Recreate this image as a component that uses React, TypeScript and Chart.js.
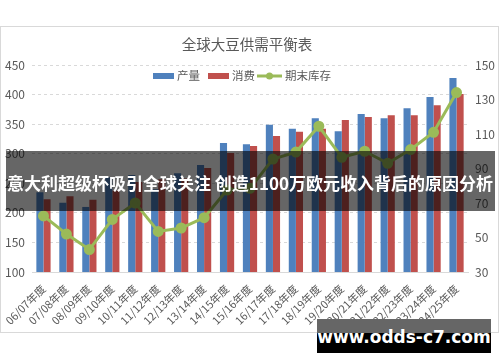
import React, { useEffect, useRef } from "react";
import { Chart, registerables } from "chart.js";

Chart.register(...registerables);

const categories = [
  "06/07年度", "07/08年度", "08/09年度", "09/10年度", "10/11年度", "11/12年度",
  "12/13年度", "13/14年度", "14/15年度", "15/16年度", "16/17年度", "17/18年度",
  "18/19年度", "19/20年度", "20/21年度", "21/22年度", "22/23年度", "23/24年度", "24/25年度",
];
const production = [235, 217, 210, 260, 264, 240, 267, 281, 318, 316, 349, 342, 360, 338, 367, 360, 377, 396, 428];
const consumption = [223, 228, 222, 238, 252, 257, 258, 276, 301, 313, 330, 337, 342, 357, 362, 365, 365, 382, 401];
const endingStocks = [62.5, 52, 43, 60.5, 70, 53.5, 55.5, 61.5, 77.5, 78.5, 95.5, 99.5, 114.5, 96.5, 100, 93, 101, 111, 134];

const titleText = "全球大豆供需平衡表";
const legendLabels = ["产量", "消费", "期末库存"];
const bannerText = "意大利超级杯吸引全球关注 创造1100万欧元收入背后的原因分析";
const watermarkText = "www.odds-c7.com";

const BLUE = "#4f81bd";
const RED = "#c0504d";
const GREEN = "#9bbb59";
const TEXT = "#595959";
const CJK = "'Noto Sans CJK SC', 'Noto Sans', sans-serif";

const decorPlugin = {
  id: "decor",
  beforeDraw(chart: any) {
    const ctx = chart.ctx;
    ctx.save();
    ctx.fillStyle = "#ffffff";
    ctx.fillRect(0, 0, chart.width, chart.height);
    ctx.strokeStyle = "#d9d9d9";
    ctx.lineWidth = 1;
    ctx.strokeRect(0.5, 26.5, 498, 306);
    ctx.restore();
  },
  afterDraw(chart: any) {
    const ctx = chart.ctx;
    ctx.save();
    ctx.fillStyle = TEXT;
    ctx.textBaseline = "middle";
    ctx.textAlign = "center";
    ctx.font = `14.5px ${CJK}`;
    ctx.fillText(titleText, 247, 44);

    ctx.font = `11.5px ${CJK}`;
    ctx.textAlign = "left";
    const ly = 76;
    // 产量
    ctx.fillStyle = BLUE;
    ctx.fillRect(153, ly - 3, 21, 6);
    ctx.fillStyle = TEXT;
    ctx.fillText(legendLabels[0], 177, ly);
    // 消费
    ctx.fillStyle = RED;
    ctx.fillRect(208, ly - 3, 21, 6);
    ctx.fillStyle = TEXT;
    ctx.fillText(legendLabels[1], 232, ly);
    // 期末库存
    ctx.strokeStyle = GREEN;
    ctx.lineWidth = 3;
    ctx.beginPath();
    ctx.moveTo(257, ly);
    ctx.lineTo(282, ly);
    ctx.stroke();
    ctx.fillStyle = GREEN;
    ctx.beginPath();
    ctx.arc(269.5, ly, 3.5, 0, Math.PI * 2);
    ctx.fill();
    ctx.fillStyle = TEXT;
    ctx.fillText(legendLabels[2], 285, ly);
    ctx.restore();
  },
};

export default function App() {
  const ref = useRef<HTMLCanvasElement | null>(null);

  useEffect(() => {
    if (!ref.current) return;
    const chart = new Chart(ref.current, {
      type: "bar",
      data: {
        labels: categories,
        datasets: [
          {
            type: "line",
            label: legendLabels[2],
            data: endingStocks,
            yAxisID: "y1",
            borderColor: GREEN,
            backgroundColor: GREEN,
            borderWidth: 3,
            pointRadius: 4,
            pointBackgroundColor: GREEN,
            pointBorderColor: GREEN,
            tension: 0,
            order: 0,
          } as any,
          {
            type: "bar",
            label: legendLabels[0],
            data: production,
            yAxisID: "y",
            backgroundColor: BLUE,
            categoryPercentage: 0.62,
            barPercentage: 1,
            order: 1,
          },
          {
            type: "bar",
            label: legendLabels[1],
            data: consumption,
            yAxisID: "y",
            backgroundColor: RED,
            categoryPercentage: 0.62,
            barPercentage: 1,
            order: 1,
          },
        ],
      },
      options: {
        responsive: false,
        animation: false,
        layout: { padding: { left: 0, right: 0, top: 65, bottom: 0 } },
        plugins: {
          legend: { display: false },
          title: { display: false },
          tooltip: { enabled: false },
        },
        scales: {
          x: {
            offset: true,
            grid: { display: false },
            border: { display: true, color: "#d9d9d9" },
            ticks: {
              color: TEXT,
              font: { size: 11, family: CJK },
              minRotation: 45,
              maxRotation: 45,
              padding: 2,
              autoSkip: false,
            },
            afterFit: (s: any) => {
              s.height = 90;
            },
          },
          y: {
            position: "left",
            min: 100,
            max: 450,
            grid: { color: "#d9d9d9", drawTicks: false },
            border: { display: false, dash: [3, 3] },
            ticks: {
              stepSize: 50,
              color: TEXT,
              font: { size: 12, family: CJK },
              padding: 7,
            },
            afterFit: (s: any) => {
              s.width = 32;
            },
          },
          y1: {
            position: "right",
            min: 30,
            max: 150,
            grid: { display: false, drawTicks: false },
            border: { display: false },
            ticks: {
              stepSize: 20,
              color: TEXT,
              font: { size: 12, family: CJK },
              padding: 7,
            },
            afterFit: (s: any) => {
              s.width = 32;
            },
          },
        },
      },
      plugins: [decorPlugin],
    });
    return () => chart.destroy();
  }, []);

  return (
    <div style={{ position: "absolute", left: 0, top: 0, width: 500, height: 362, background: "#fff", overflow: "hidden" }}>
      <canvas ref={ref} width={500} height={362} style={{ display: "block", width: 500, height: 362 }} />
      <div
        style={{
          position: "absolute",
          left: 6,
          top: 151,
          width: 489,
          height: 60,
          background: "rgba(0,0,0,0.6)",
          color: "#fff",
          fontFamily: CJK,
          fontWeight: 700,
          fontSize: 17,
          lineHeight: "64px",
          whiteSpace: "nowrap",
          overflow: "hidden",
          paddingLeft: 1,
          boxSizing: "border-box",
        }}
      >
        {bannerText}
      </div>
      <div
        style={{
          position: "absolute",
          left: 317,
          top: 319,
          width: 174,
          height: 34,
          background: "linear-gradient(#666666 0px, #666666 14px, #000000 14px, #000000 34px)",
          color: "#fff",
          fontFamily: "'DejaVu Sans', sans-serif",
          fontWeight: 700,
          fontSize: 17,
          lineHeight: "36px",
          textAlign: "center",
          whiteSpace: "nowrap",
        }}
      >
        {watermarkText}
      </div>
    </div>
  );
}
